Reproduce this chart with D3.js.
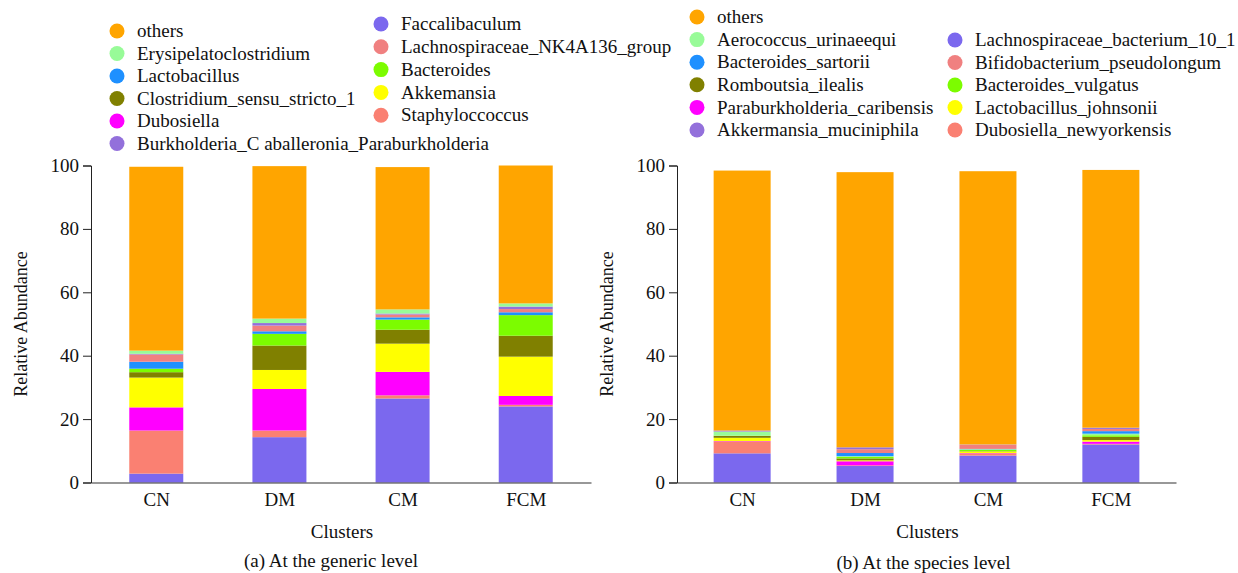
<!DOCTYPE html>
<html><head><meta charset="utf-8">
<script src="https://cdn.jsdelivr.net/npm/d3@7/dist/d3.min.js"></script>
<style>
html,body{margin:0;padding:0;background:#fff;}
svg text{font-family:"Liberation Serif","Times New Roman",serif;fill:#111;}
</style></head>
<body>
<svg id="chart" width="1238" height="573"></svg>
<script>
// ---------- DATA ----------
const categories = ["CN", "DM", "CM", "FCM"];
const yTicks = [0, 20, 40, 60, 80, 100];

// (a) generic level — stacking order bottom -> top
const genusNames = ["Faccalibaculum", "Staphyloccoccus", "Dubosiella", "Akkemansia",
  "Clostridium_sensu_stricto_1", "Bacteroides", "Lactobacillus", "Lachnospiraceae_NK4A136_group",
  "Burkholderia_C aballeronia_Paraburkholderia", "Erysipelatoclostridium", "others"];
const genusColors = ["#7B68EE", "#FA8072", "#FF00FF", "#FFFF00", "#808000", "#7CFC00",
  "#1E90FF", "#F08080", "#9370DB", "#98FB98", "#FFA500"];
const genusCN  = [2.8, 13.6, 7.3, 9.4, 1.7, 1.1, 2.2, 2.3, 0.2, 1.0, 58.0];
const genusDM  = [14.3, 2.1, 13.1, 6.0, 7.7, 3.7, 0.8, 1.8, 0.8, 1.4, 48.1];
const genusCM  = [26.5, 1.0, 7.4, 8.9, 4.4, 3.2, 0.7, 0.9, 0.3, 1.3, 44.9];
const genusFCM = [24.0, 0.5, 2.8, 12.4, 6.6, 6.5, 0.9, 1.0, 0.8, 1.0, 43.5];
const genusLegendCol1 = ["others", "Erysipelatoclostridium", "Lactobacillus",
  "Clostridium_sensu_stricto_1", "Dubosiella", "Burkholderia_C aballeronia_Paraburkholderia"];
const genusLegendCol2 = ["Faccalibaculum", "Lachnospiraceae_NK4A136_group", "Bacteroides",
  "Akkemansia", "Staphyloccoccus"];

// (b) species level — stacking order bottom -> top
const speciesNames = ["Lachnospiraceae_bacterium_10_1", "Dubosiella_newyorkensis",
  "Paraburkholderia_caribensis", "Lactobacillus_johnsonii", "Romboutsia_ilealis",
  "Bacteroides_vulgatus", "Aerococcus_urinaeequi", "Bacteroides_sartorii",
  "Bifidobacterium_pseudolongum", "Akkermansia_muciniphila", "others"];
const speciesColors = ["#7B68EE", "#FA8072", "#FF00FF", "#FFFF00", "#808000", "#7CFC00",
  "#98FB98", "#1E90FF", "#F08080", "#9370DB", "#FFA500"];
const speciesCN  = [9.2, 3.8, 0.1, 1.0, 0.6, 0.1, 1.2, 0.1, 0.1, 0.2, 82.0];
const speciesDM  = [5.2, 0.2, 1.3, 0.3, 0.6, 0.5, 0.2, 1.0, 1.2, 0.6, 86.8];
const speciesCM  = [8.5, 0.7, 0.1, 0.5, 0.1, 0.4, 0.2, 0.1, 1.3, 0.1, 86.2];
const speciesFCM = [12.0, 0.2, 0.7, 0.5, 1.0, 0.5, 0.5, 0.8, 0.7, 0.4, 81.3];
const speciesLegendCol1 = ["others", "Aerococcus_urinaeequi", "Bacteroides_sartorii",
  "Romboutsia_ilealis", "Paraburkholderia_caribensis", "Akkermansia_muciniphila"];
const speciesLegendCol2 = ["Lachnospiraceae_bacterium_10_1", "Bifidobacterium_pseudolongum",
  "Bacteroides_vulgatus", "Lactobacillus_johnsonii", "Dubosiella_newyorkensis"];

// ---------- DRAW ----------
const svg = d3.select("#chart");
const FONT = 19;

function buildRows(names, perCat) {
  return categories.map((c, ci) => {
    const row = {cat: c};
    names.forEach((n, i) => row[n] = perCat[ci][i]);
    return row;
  });
}

function panel(opts) {
  const {x0, x1, yTop, yBot, names, colors, perCat, caption, capDx, capY, barW} = opts;
  const g = svg.append("g");
  const x = d3.scalePoint().domain(categories).range([x0, x1]).padding(0.53);
  const y = d3.scaleLinear().domain([0, 100]).range([yBot, yTop]);
  const color = d3.scaleOrdinal().domain(names).range(colors);
  const stack = d3.stack().keys(names)(buildRows(names, perCat));

  g.selectAll("g.layer").data(stack).join("g").attr("class", "layer")
    .attr("fill", d => color(d.key))
    .selectAll("rect").data(d => d).join("rect")
    .attr("x", d => x(d.data.cat) - barW / 2)
    .attr("width", barW)
    .attr("y", d => y(d[1]))
    .attr("height", d => Math.max(0, y(d[0]) - y(d[1])));

  // y axis
  const ya = g.append("g").attr("transform", `translate(${x0},0)`)
    .call(d3.axisLeft(y).tickValues(yTicks).tickSize(8).tickPadding(4));
  ya.select(".domain").attr("stroke", "#222");
  ya.selectAll(".tick line").attr("stroke", "#222");
  ya.selectAll(".tick text").attr("font-size", FONT).attr("fill", "#111")
    .attr("font-family", "Liberation Serif");

  // x axis
  const xa = g.append("g").attr("transform", `translate(0,${yBot})`)
    .call(d3.axisBottom(x).tickSize(0).tickPadding(10));
  xa.select(".domain").attr("stroke", "#333").attr("stroke-width", 1.2);
  xa.selectAll(".tick text").attr("font-size", FONT).attr("fill", "#111")
    .attr("font-family", "Liberation Serif").attr("dy", "0.71em");

  g.append("text").attr("x", (x0 + x1) / 2 + 1).attr("y", 538)
    .attr("text-anchor", "middle").attr("font-size", FONT).text("Clusters");
  g.append("text").attr("x", (x0 + x1) / 2 + capDx).attr("y", capY)
    .attr("text-anchor", "middle").attr("font-size", FONT).text(caption);
  g.append("text")
    .attr("transform", `translate(${x0 - 64},${(yTop + yBot) / 2}) rotate(-90)`)
    .attr("text-anchor", "middle").attr("font-size", FONT - 1).text("Relative Abundance");
  return color;
}

function legend(color, items, cx, cy0, step) {
  const g = svg.append("g");
  const it = g.selectAll("g").data(items).join("g")
    .attr("transform", (d, i) => `translate(${cx},${cy0 + i * step})`);
  it.append("circle").attr("r", 7.5).attr("fill", d => color(d));
  it.append("text").attr("x", 20).attr("dy", "0.33em").attr("font-size", FONT).text(d => d);
}

const cA = panel({x0: 91, x1: 591, yTop: 165.5, yBot: 482.5, names: genusNames,
  colors: genusColors, perCat: [genusCN, genusDM, genusCM, genusFCM],
  caption: "(a) At the generic level", capDx: -10, capY: 567, barW: 54});
const cB = panel({x0: 677, x1: 1176, yTop: 165.5, yBot: 482.5, names: speciesNames,
  colors: speciesColors, perCat: [speciesCN, speciesDM, speciesCM, speciesFCM],
  caption: "(b) At the species level", capDx: -3, capY: 569, barW: 57});

legend(cA, genusLegendCol1, 117, 31, 22.5);
legend(cA, genusLegendCol2, 381, 24, 22.8);
legend(cB, speciesLegendCol1, 697, 17, 22.6);
legend(cB, speciesLegendCol2, 955, 40, 22.5);
</script>
</body></html>
